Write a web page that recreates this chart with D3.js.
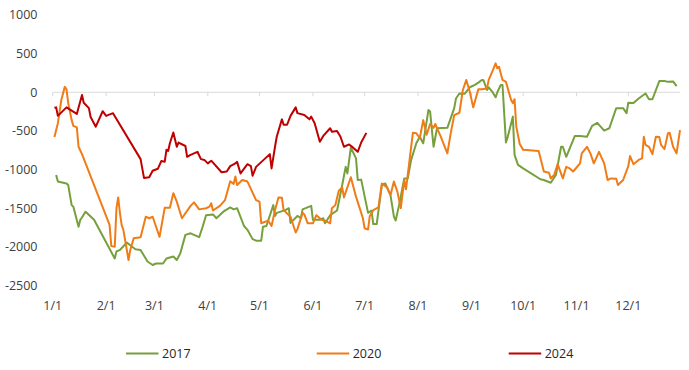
<!DOCTYPE html>
<html>
<head>
<meta charset="utf-8">
<script src="https://cdn.jsdelivr.net/npm/d3@7"></script>
<style>
html,body{margin:0;padding:0;background:#fff;}
svg text{font-family:"Open Sans","Noto Sans",sans-serif;fill:#404040;}
</style>
</head>
<body>
<svg id="chart" width="689" height="370"></svg>
<script>
// Day of year (0 = Jan 1) and value
const series2017 = [[2,-1070],[3,-1155],[8,-1180],[9,-1200],[11,-1460],[12,-1480],[15,-1740],[16,-1650],[17,-1620],[19,-1545],[20,-1565],[24,-1650],[36,-2150],[37,-2060],[39,-2040],[43,-1945],[45,-1980],[48,-2030],[51,-2040],[55,-2190],[58,-2235],[60,-2215],[64,-2215],[66,-2150],[70,-2125],[72,-2170],[74,-2085],[77,-1845],[80,-1825],[85,-1875],[87,-1740],[89,-1590],[93,-1580],[95,-1630],[99,-1545],[103,-1490],[105,-1515],[107,-1500],[111,-1730],[113,-1780],[116,-1900],[118,-1920],[121,-1920],[122,-1740],[124,-1730],[128,-1460],[129,-1600],[130,-1560],[135,-1525],[137,-1500],[138,-1690],[142,-1600],[144,-1630],[145,-1515],[150,-1470],[151,-1650],[155,-1650],[157,-1630],[158,-1695],[161,-1590],[165,-1530],[168,-1200],[170,-965],[171,-1050],[173,-715],[176,-855],[177,-1135],[179,-1130],[183,-1560],[185,-1530],[186,-1705],[188,-1705],[191,-1200],[193,-1180],[196,-1330],[198,-1610],[199,-1660],[201,-1460],[204,-1115],[206,-1115],[208,-875],[211,-660],[213,-575],[215,-660],[218,-230],[219,-250],[221,-705],[223,-465],[229,-460],[233,-205],[234,-80],[236,-15],[239,-20],[242,65],[245,95],[247,125],[249,160],[250,155],[252,30],[253,65],[255,10],[257,-65],[258,0],[260,95],[261,95],[263,-650],[264,-580],[267,-315],[268,-810],[270,-940],[273,-985],[283,-1125],[285,-1135],[289,-1170],[292,-1070],[295,-705],[296,-705],[298,-835],[303,-565],[306,-565],[310,-575],[313,-435],[316,-395],[320,-495],[323,-465],[327,-205],[331,-205],[333,-270],[334,-135],[337,-140],[340,-80],[344,-15],[346,-90],[348,-90],[352,145],[355,145],[357,135],[360,140],[362,80]];

const series2020 = [[1,-580],[3,-400],[5,-100],[7,70],[8,40],[9,-140],[11,-360],[12,-435],[14,-455],[15,-705],[17,-800],[33,-1715],[34,-1990],[36,-2000],[37,-1500],[38,-1360],[39,-1560],[40,-1715],[41,-1780],[44,-2170],[45,-2040],[47,-1890],[51,-1875],[54,-1610],[56,-1630],[58,-1610],[62,-1870],[65,-1495],[68,-1495],[70,-1305],[72,-1415],[75,-1630],[80,-1470],[82,-1425],[85,-1515],[89,-1500],[91,-1480],[92,-1435],[93,-1530],[97,-1470],[100,-1395],[103,-1150],[105,-1185],[106,-1090],[107,-1200],[110,-1135],[113,-1155],[118,-1395],[120,-1415],[121,-1695],[125,-1660],[127,-1730],[129,-1525],[131,-1360],[133,-1365],[134,-1525],[138,-1610],[141,-1815],[142,-1770],[145,-1560],[146,-1580],[148,-1695],[151,-1695],[153,-1590],[156,-1650],[158,-1660],[161,-1695],[162,-1500],[164,-1460],[166,-1275],[168,-1230],[169,-1360],[173,-1100],[176,-1350],[180,-1630],[181,-1760],[183,-1775],[184,-1600],[186,-1525],[189,-1490],[191,-1180],[194,-1230],[196,-1330],[198,-1155],[200,-1285],[202,-1500],[204,-1135],[205,-1255],[209,-525],[211,-530],[213,-595],[215,-360],[217,-550],[219,-410],[221,-460],[222,-410],[223,-465],[225,-565],[229,-790],[231,-525],[233,-295],[236,-265],[238,30],[240,160],[242,10],[244,-195],[247,40],[249,40],[252,50],[253,160],[255,265],[257,375],[258,310],[259,330],[261,160],[263,135],[266,-100],[267,-140],[268,-90],[269,-445],[271,-670],[273,-745],[282,-760],[285,-1025],[288,-1040],[289,-1115],[291,-1070],[293,-930],[296,-1115],[298,-965],[300,-985],[302,-1025],[306,-920],[307,-790],[310,-705],[312,-790],[314,-920],[317,-770],[320,-920],[322,-1135],[324,-1115],[327,-1120],[328,-1200],[331,-1135],[334,-955],[335,-825],[337,-930],[340,-875],[342,-855],[343,-575],[344,-680],[346,-705],[348,-800],[350,-575],[352,-580],[353,-680],[355,-735],[357,-530],[358,-525],[360,-705],[362,-790],[364,-490]];

const series2024 = [[1,-200],[2,-195],[3,-305],[8,-195],[14,-280],[17,-35],[18,-135],[21,-205],[22,-320],[25,-445],[29,-245],[31,-305],[35,-270],[51,-865],[53,-1110],[56,-1100],[58,-1015],[61,-990],[63,-890],[65,-900],[66,-745],[67,-760],[68,-660],[70,-520],[72,-705],[73,-650],[77,-695],[78,-835],[80,-810],[84,-770],[86,-865],[88,-875],[90,-920],[92,-885],[98,-1035],[101,-1025],[103,-955],[106,-920],[107,-900],[109,-1050],[113,-930],[115,-955],[116,-1080],[118,-965],[126,-800],[127,-985],[129,-705],[130,-575],[133,-350],[134,-420],[136,-420],[138,-305],[141,-195],[142,-270],[146,-295],[149,-350],[150,-315],[152,-400],[155,-640],[157,-565],[161,-465],[162,-510],[165,-500],[167,-575],[169,-705],[172,-675],[174,-710],[177,-770],[179,-650],[182,-525]];

const seriesNames = ["2017","2020","2024"];
const seriesColors = ["#76A03C","#F07C17","#C00000"];
const yTicks = [1000,500,0,-500,-1000,-1500,-2000,-2500];
const xTickLabels = ["1/1","2/1","3/1","4/1","5/1","6/1","7/1","8/1","9/1","10/1","11/1","12/1"];

const allSeries = [series2017, series2020, series2024];
const svg = d3.select("#chart");

const base = new Date(2023,0,1);
const toDate = d => d3.timeDay.offset(base, d);

const x = d3.scaleTime().domain([base, new Date(2023,11,31)]).range([52.7, 680]);
const y = d3.scaleLinear().domain([-2500, 1000]).range([285.5, 15]);

// Y labels
svg.append("g").selectAll("text").data(yTicks).join("text")
  .attr("x", 37.5).attr("y", d => y(d)).attr("dy", "0.35em")
  .attr("text-anchor", "end").style("font-size", "12.5px").text(d => d);

// zero line with ticks
const zero = y(0);
svg.append("line").attr("x1", x.range()[0]).attr("x2", x.range()[1])
  .attr("y1", zero).attr("y2", zero).attr("stroke", "#d9d9d9").attr("stroke-width", 1);
const monthDates = xTickLabels.map((l, i) => new Date(2023, i, 1));
svg.append("g").selectAll("line").data(monthDates).join("line")
  .attr("x1", d => x(d)).attr("x2", d => x(d))
  .attr("y1", zero).attr("y2", zero + 4).attr("stroke", "#d9d9d9").attr("stroke-width", 1);

// X labels
svg.append("g").selectAll("text").data(monthDates).join("text")
  .attr("x", d => x(d)).attr("y", 309.5).attr("text-anchor", "middle")
  .style("font-size", "12.5px").text((d, i) => xTickLabels[i]);

// Lines
const line = d3.line().x(d => x(toDate(d[0]))).y(d => y(d[1]));
svg.append("g").selectAll("path").data(allSeries).join("path")
  .attr("d", line).attr("fill", "none")
  .attr("stroke", (d, i) => seriesColors[i]).attr("stroke-width", 2)
  .attr("stroke-linejoin", "round");

// Legend
const legendX = [126, 316.7, 508.7];
const lg = svg.append("g").selectAll("g").data(seriesNames).join("g")
  .attr("transform", (d, i) => `translate(${legendX[i]},353.5)`);
lg.append("line").attr("x1", 0).attr("x2", 32.5).attr("y1", 0).attr("y2", 0)
  .attr("stroke", (d, i) => seriesColors[i]).attr("stroke-width", 2);
lg.append("text").attr("x", 36).attr("y", 0).attr("dy", "0.35em")
  .style("font-size", "12.5px").style("fill", "#262626").text(d => d);
</script>
</body>
</html>
